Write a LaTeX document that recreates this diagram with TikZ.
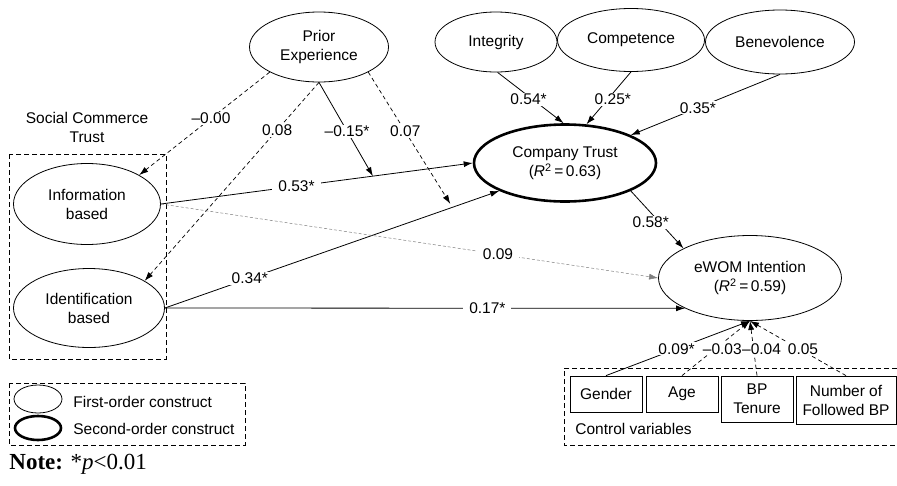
\documentclass[tikz,border=0pt]{standalone}
\usepackage{fontspec}
\setmainfont{Liberation Sans}
\newfontfamily\notefont{Liberation Serif}
\usetikzlibrary{arrows.meta,shapes.geometric}

\begin{document}
\begin{tikzpicture}[x=1pt,y=-1pt,-{Latex[length=9pt,width=6pt]}, line width=0.8pt,
      every node/.append style={font=\fontsize{15.5}{19}\selectfont,align=center},
      construct/.style={ellipse,draw,-,inner sep=0pt},
      ctrl/.style={rectangle,draw,-,inner sep=0pt,minimum width=72pt,minimum height=36pt},
      lbl/.style={fill=white,inner xsep=6pt,inner ysep=1pt},
      clbl/.style={fill=white,inner xsep=1pt,inner ysep=1pt},
      dsh/.style={dash pattern=on 4pt off 3pt,line width=0.7pt},
      dot/.style={dash pattern=on 3pt off 2pt,line width=0.5pt,gray},
      border/.style={-,dash pattern=on 5pt off 3pt,line width=0.8pt}]
      \useasboundingbox (0,0) rectangle (897,485);
      \tikzstyle{plain} = [inner sep=0pt,anchor=west]
      % constructs
      \node (prior) [construct,minimum width=139pt,minimum height=70pt] at (319,47) {Prior\\Experience};
      \node (integ) [construct,minimum width=122pt,minimum height=60pt] at (496,42) {Integrity};
      \node (comp) [construct,minimum width=147pt,minimum height=63pt] at (631,40) {Competence};
      \node (bene) [construct,minimum width=149pt,minimum height=64pt] at (780,42) {Benevolence};
      \node (ct) [construct,line width=2.6pt,minimum width=182pt,minimum height=77pt] at (565,163) {Company Trust\\(\textit{R}\textsuperscript{2}\,=\,0.63)};
      \node (ewom) [construct,minimum width=183pt,minimum height=85pt] at (750,278) {eWOM Intention\\(\textit{R}\textsuperscript{2}\,=\,0.59)};
      \node (info) [construct,minimum width=147pt,minimum height=81pt] at (87,204) {Information\\based};
      \node (ident) [construct,minimum width=151pt,minimum height=79pt] at (89,308) {Identification\\based};
      \node (sct) at (87,127) {Social Commerce\\Trust};
      \draw[border] (9,154) rectangle (166,359);
      % control variables
      \node (gender) [ctrl] at (606,394) {Gender};
      \node (age) [ctrl] at (682,394) {Age};
      \node (tenure) [ctrl,minimum height=46pt] at (757,399) {BP\\Tenure};
      \node (number) [ctrl,minimum width=100pt,minimum height=48pt] at (846,400) {Number of\\Followed BP};
      \node (ctrltext) [plain] at (575,429) {Control variables};
      \draw[border] (897,368) -- (564,368) -- (564,445) -- (897,445);
      % legend
      \draw[border] (9,383) rectangle (245,445);
      \node (leg1) [construct,minimum width=48pt,minimum height=28pt] at (38,399) {};
      \node (leg2) [construct,line width=2.6pt,minimum width=46pt,minimum height=24pt] at (38,428) {};
      \node (legt1) [plain] at (73,402) {First-order construct};
      \node (legt2) [plain] at (73,429) {Second-order construct};
      \node (note) [plain,font=\notefont\fontsize{23}{26}\selectfont] at (9,464) {\textbf{Note:} *\textit{p}<0.01};
      % paths
      \draw[dsh] (prior.207) -- node[lbl,pos=0.45] {\textendash0.00} (info.29);
      \draw[dsh] (prior.south) -- node[lbl,pos=0.24] {0.08} (ident.26);
      \draw (info.east) -- node[lbl,pos=0.435] {0.53*} coordinate[pos=0.68] (m1) (ct.west);
      \draw (ident.east) -- node[lbl,pos=0.254] {0.34*} coordinate[pos=0.86] (m2) (ct.203);
      \draw (prior.south) -- node[lbl,pos=0.52] {\textendash0.15*} (m1);
      \draw[dsh,shorten >=4pt] (prior.-27) -- node[lbl,pos=0.44] {0.07} (m2);
      \draw[dot] (info.east) -- node[lbl,pos=0.678,text=black] {0.09} (ewom.west);
      \draw (ident.east) -- node[lbl,pos=0.62] {0.17*} (ewom.south west);
      \draw (ct.-23) -- node[lbl,pos=0.55,xshift=-9pt] {0.58*} (ewom.156);
      \draw (integ.-87) -- node[lbl,pos=0.53,xshift=-4pt] {0.54*} (ct.92);
      \draw (comp.south) -- node[lbl,pos=0.52,xshift=5pt] {0.25*} (ct.61);
      \draw (bene.south) -- node[lbl,pos=0.55] {0.35*} (ct.23);
      \draw (gender.north) -- node[clbl,pos=0.49] {0.09*} (ewom.south);
      \draw[dsh] (age.north) -- node[clbl,pos=0.49,xshift=7pt] {\textendash0.03} (ewom.south);
      \draw[dsh] (tenure.north) -- node[clbl,pos=0.49,xshift=8pt] {\textendash0.04} (ewom.south);
      \draw[dsh] (number.north) -- node[clbl,pos=0.49,xshift=4pt] {0.05} (ewom.south);
\end{tikzpicture}
\end{document}
